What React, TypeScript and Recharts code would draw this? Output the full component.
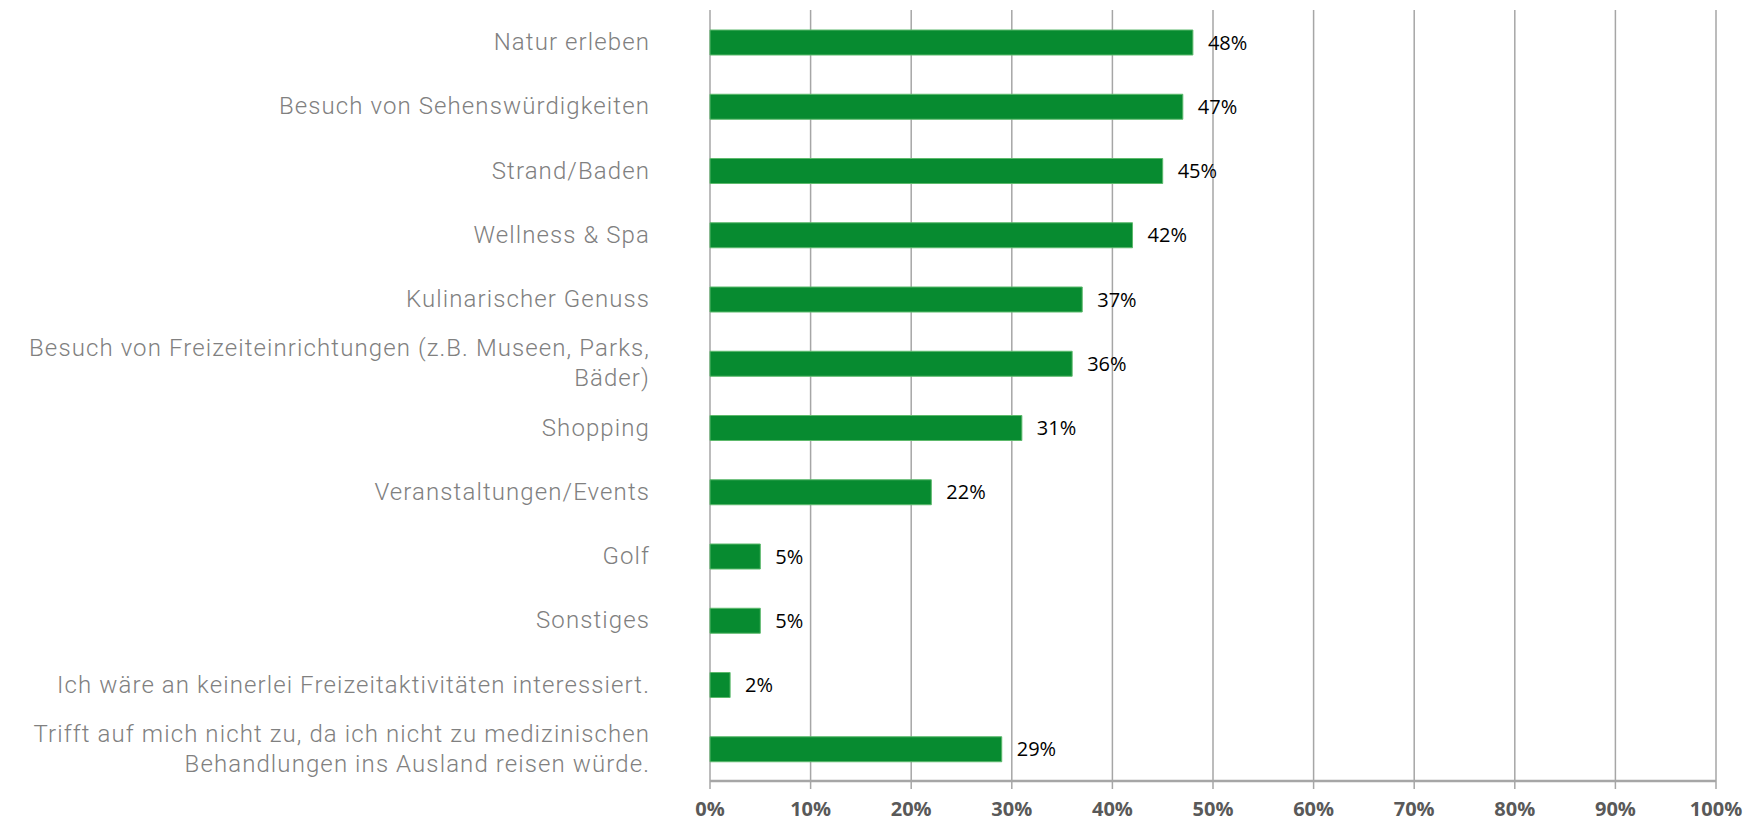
import { BarChart, Bar, XAxis, YAxis, CartesianGrid, LabelList } from "recharts";

// categories top to bottom; "\n" marks where the original label wraps
const categories = [
  "Natur erleben",
  "Besuch von Sehenswürdigkeiten",
  "Strand/Baden",
  "Wellness & Spa",
  "Kulinarischer Genuss",
  "Besuch von Freizeiteinrichtungen (z.B. Museen, Parks,\nBäder)",
  "Shopping",
  "Veranstaltungen/Events",
  "Golf",
  "Sonstiges",
  "Ich wäre an keinerlei Freizeitaktivitäten interessiert.",
  "Trifft auf mich nicht zu, da ich nicht zu medizinischen\nBehandlungen ins Ausland reisen würde.",
];

const shares = [48, 47, 45, 42, 37, 36, 31, 22, 5, 5, 2, 29];

const xTicks = [0, 10, 20, 30, 40, 50, 60, 70, 80, 90, 100];

const data = categories.map((name, i) => ({ name, value: shares[i] }));

const GREEN = "#078b30";
const GRID = "#a6a6a6";

function CategoryTick(props: any) {
  const { x, y, payload } = props;
  const lines: string[] = String(payload.value).split("\n");
  const lineHeight = 30;
  const startY = y - ((lines.length - 1) * lineHeight) / 2;
  return (
    <text
      x={x}
      y={startY}
      textAnchor="end"
      dominantBaseline="central"
      fill="#808080"
      fontFamily="Roboto, 'Noto Sans', sans-serif"
      fontWeight={300}
      fontSize={24}
      letterSpacing={1.1}
    >
      {lines.map((line, i) => (
        <tspan key={i} x={x} dy={i === 0 ? 0 : lineHeight}>
          {line}
        </tspan>
      ))}
    </text>
  );
}

export default function App() {
  return (
    <div style={{ position: "absolute", left: 0, top: 0, background: "#fff" }}>
      <BarChart
        width={1763}
        height={825}
        data={data}
        layout="vertical"
        margin={{ top: 10, right: 47, left: 0, bottom: 4 }}
        barCategoryGap={0}
      >
        <CartesianGrid
          horizontal={false}
          vertical={true}
          stroke={GRID}
          strokeWidth={1.5}
        />
        <XAxis
          type="number"
          domain={[0, 100]}
          ticks={xTicks}
          interval={0}
          tickFormatter={(v) => `${v}%`}
          height={40}
          stroke={GRID}
          axisLine={{ stroke: GRID, strokeWidth: 2.5 }}
          tickLine={{ stroke: GRID, strokeWidth: 1.5 }}
          tickSize={8}
          tickMargin={13}
          tick={{
            fill: "#595959",
            fontSize: 20,
            fontWeight: 700,
            fontFamily: "'Liberation Sans Narrow', 'Open Sans', sans-serif",
          }}
        />
        <YAxis
          type="category"
          dataKey="name"
          width={710}
          axisLine={false}
          tickLine={false}
          tickSize={0}
          tickMargin={60}
          interval={0}
          tick={<CategoryTick />}
        />
        <Bar
          dataKey="value"
          fill={GREEN}
          stroke="#5db96c"
          strokeWidth={1}
          barSize={25}
          isAnimationActive={false}
        >
          <LabelList
            dataKey="value"
            position="right"
            offset={15}
            formatter={(v: any) => `${v}%`}
            fill="#000"
            fontSize={20}
            fontFamily="'Open Sans', sans-serif"
          />
        </Bar>
      </BarChart>
    </div>
  );
}
